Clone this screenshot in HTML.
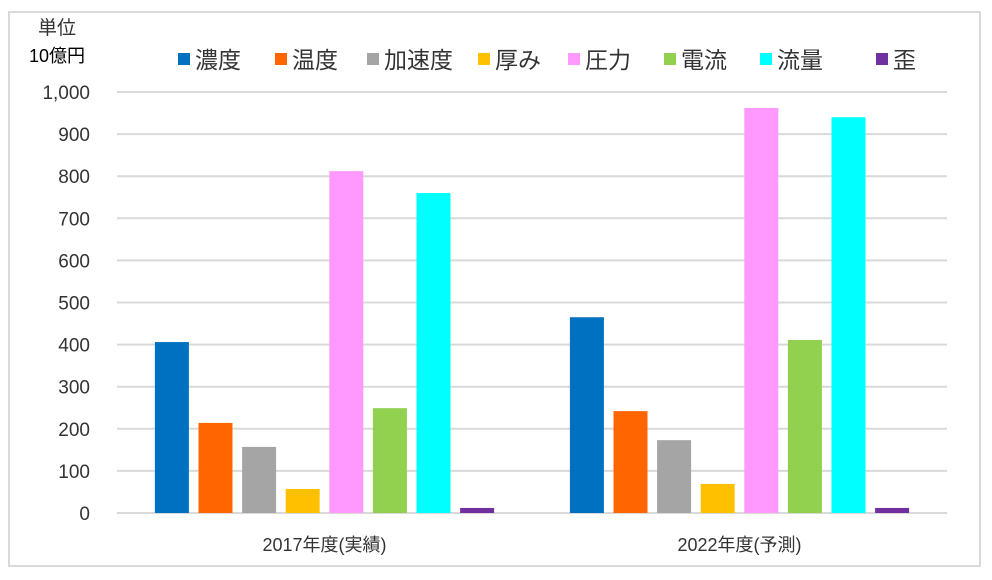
<!DOCTYPE html>
<html><head><meta charset="utf-8"><style>
body{margin:0;background:#fff;}
svg text{font-family:"Liberation Sans","Noto Sans CJK JP",sans-serif;}
</style></head><body>
<svg width="992" height="575" id="c">
<rect x="9" y="12" width="971" height="554" fill="#fff" stroke="#d9d9d9" stroke-width="2"/>
<text x="57" y="34" font-size="19" text-anchor="middle" fill="#333">単位</text>
<text x="57" y="62" font-size="18" text-anchor="middle" fill="#000">10億円</text>
<g id="grid"></g><g id="bars"></g><g id="legend"></g><g id="labels"></g>
</svg>
<script>
const categories=["2017年度(実績)","2022年度(予測)"];
const seriesNames=["濃度","温度","加速度","厚み","圧力","電流","流量","歪"];
const colors=["#0070c0","#ff6600","#a5a5a5","#ffc000","#ff99ff","#92d050","#00ffff","#7030a0"];
const s2017=[406,214,157,57,812,249,760,12];
const s2022=[465,242,173,69,962,411,940,12];
const ticks=[0,100,200,300,400,500,600,700,800,900,1000];
const tickLabels=["0","100","200","300","400","500","600","700","800","900","1,000"];
const NS="http://www.w3.org/2000/svg";
const x0=117,x1=947,yb=513,yt=92;
const y=v=>yb-(v/1000)*(yb-yt);
function mk(t,a,p){const e=document.createElementNS(NS,t);for(const k in a)e.setAttribute(k,a[k]);p.appendChild(e);return e;}
const g=document.getElementById('grid');
ticks.forEach((t,i)=>{
 const l=mk('line',{x1:x0,x2:x1,y1:y(t),y2:y(t),stroke:'#d9d9d9','stroke-width':2},g);
 
 
 const tx=mk('text',{x:90,y:y(t)+7,'font-size':19,'text-anchor':'end',fill:'#333'},g);
 tx.textContent=tickLabels[i];
 
 
});
const b=document.getElementById('bars');
const band=(x1-x0)/categories.length,pitch=43.6,bw=34;
[s2017,s2022].forEach((vals,ci)=>{
 const cx=x0+band*(ci+0.5);
 vals.forEach((v,si)=>{
  const bx=cx+(si-3.5)*pitch-bw/2;
  const r=mk('rect',{x:bx,y:y(v),width:bw,height:yb-y(v),fill:colors[si]},b);
  
  
 });
 const t=mk('text',{x:cx,y:551,'font-size':18,'text-anchor':'middle',fill:'#333'},document.getElementById('labels'));
 t.textContent=categories[ci];
 
 
});
const lg=document.getElementById('legend');
const lx=[178,275,367,478,568,664,760,876];
seriesNames.forEach((n,i)=>{
 const r=mk('rect',{x:lx[i],y:53,width:12,height:12,fill:colors[i]},lg);
 
 
 const t=mk('text',{x:lx[i]+17,y:68,'font-size':23,fill:'#333'},lg);
 t.textContent=n;
 
 
});
</script>
</body></html>
